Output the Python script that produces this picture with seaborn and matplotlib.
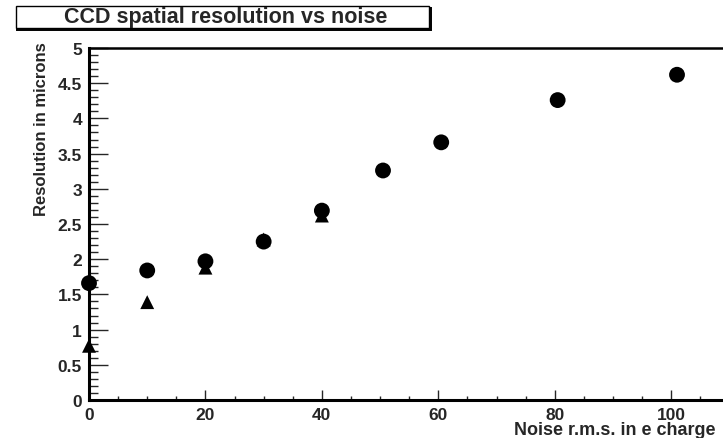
import numpy as np
import pandas as pd
import seaborn as sns
import matplotlib.pyplot as plt
from matplotlib.patches import Rectangle
from matplotlib.ticker import MultipleLocator, FormatStrFormatter

# values
noise_circ = [0, 10, 20, 30, 40, 50.5, 60.5, 80.5, 101]
res_circ = [1.66, 1.84, 1.97, 2.25, 2.69, 3.26, 3.66, 4.26, 4.62]
noise_tri = [0, 10, 20, 30, 40]
res_tri = [0.77, 1.39, 1.88, 2.28, 2.62]

circ = pd.DataFrame({'noise': noise_circ, 'res': res_circ})
tri = pd.DataFrame({'noise': noise_tri, 'res': res_tri})

sns.set_style('white')
plt.rcParams['font.family'] = ['Liberation Sans', 'DejaVu Sans']

fig = plt.figure(figsize=(7.23, 4.39), dpi=100)
ax = fig.add_axes([89 / 723, 1 - 401 / 439, 1 - 89 / 723, (401 - 49) / 439])

sns.scatterplot(data=tri, x='noise', y='res', marker='^', s=100, color='black',
                edgecolor='none', ax=ax, clip_on=False, zorder=3)
sns.scatterplot(data=circ, x='noise', y='res', marker='o', s=130, color='black',
                edgecolor='none', ax=ax, clip_on=False, zorder=4)

ax.set_xlim(0, 108.9)
ax.set_ylim(0, 5)
ax.set_xlabel('')
ax.set_ylabel('')

ax.xaxis.set_major_locator(MultipleLocator(20))
ax.xaxis.set_minor_locator(MultipleLocator(5))
ax.yaxis.set_major_locator(MultipleLocator(0.5))
ax.yaxis.set_minor_locator(MultipleLocator(0.1))
ax.yaxis.set_major_formatter(FormatStrFormatter('%g'))

ax.tick_params(axis='x', which='major', direction='in', length=7, width=1, pad=5,
               labelsize=12.5, bottom=True)
ax.tick_params(axis='x', which='minor', direction='in', length=3, width=1, bottom=True)
ax.tick_params(axis='y', which='major', direction='in', length=14, width=1, pad=5,
               labelsize=12.5, left=True)
ax.tick_params(axis='y', which='minor', direction='in', length=6.5, width=1, left=True)
for lbl in ax.get_xticklabels() + ax.get_yticklabels():
    lbl.set_fontweight('bold')

for side in ['left', 'bottom']:
    ax.spines[side].set_linewidth(2.2)
    ax.spines[side].set_color('black')
ax.spines['top'].set_linewidth(1.8)
ax.spines['top'].set_color('black')
ax.spines['right'].set_visible(False)

# title box
fig.add_artist(Rectangle((17 / 723, 1 - 31 / 439), 414 / 723, 22 / 439,
                         transform=fig.transFigure, fill=False, lw=1.4, color='black'))
fig.add_artist(Rectangle((16 / 723, 1 - 29 / 439), 413 / 723, 22 / 439,
                         transform=fig.transFigure, facecolor='white', lw=1.0, edgecolor='black'))
fig.text(226 / 723, 1 - 18 / 439, 'CCD spatial resolution vs noise', ha='center', va='center',
         fontsize=15.5, fontweight='bold')

fig.text(42 / 723, 1 - 42 / 439, 'Resolution in microns', rotation=90, ha='center', va='top',
         fontsize=12, fontweight='bold')
fig.text(715 / 723, 1 - 431 / 439, 'Noise r.m.s. in e charge', ha='right', va='center',
         fontsize=13, fontweight='bold')

fig.savefig('out.png', dpi=100)
